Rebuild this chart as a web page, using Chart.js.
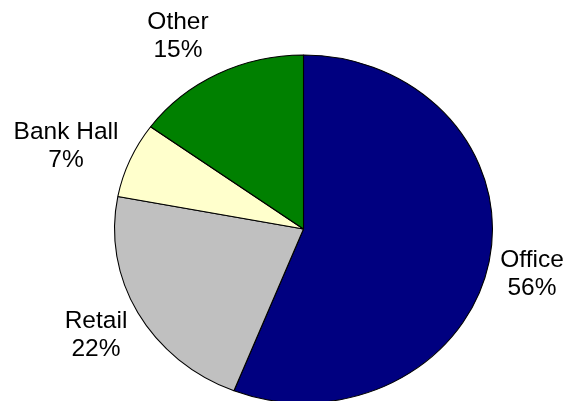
<!DOCTYPE html>
<html>
<head>
<meta charset="utf-8">
<title>Space Use by Type</title>
<script src="https://cdn.jsdelivr.net/npm/chart.js@4.4.1/dist/chart.umd.min.js"></script>
<style>
  html, body { margin: 0; padding: 0; background: #ffffff; }
  #wrap { position: relative; width: 572px; height: 401px; }
</style>
</head>
<body>
<div id="wrap"><canvas id="chart" width="572" height="401"></canvas></div>
<script>
// Space use shares, in percent, clockwise from 12 o'clock
const categories = ['Office', 'Retail', 'Bank Hall', 'Other'];
const shares = [56, 22, 7, 15];
const sliceColors = ['#000080', '#C0C0C0', '#FFFFCC', '#008000'];

// Label block centres (x, first baseline) placed around the pie
const labelAnchors = [
  [532, 267],
  [96, 328],
  [66, 139],
  [178, 29]
];

const PIE_RADIUS = 174;        // vertical radius
const PIE_STRETCH = 189 / 174; // horizontal stretch, pie is drawn slightly wide
const LABEL_FONT = '24.5px "Liberation Sans", Arial, sans-serif';
const LINE_GAP = 28;

// Stretch the pie horizontally about its own centre
const ellipsePlugin = {
  id: 'ellipsePie',
  beforeDatasetsDraw(chart) {
    const arc = chart.getDatasetMeta(0).data[0];
    const ctx = chart.ctx;
    ctx.save();
    ctx.translate(arc.x, arc.y);
    ctx.scale(PIE_STRETCH, 1);
    ctx.translate(-arc.x, -arc.y);
  },
  afterDatasetsDraw(chart) {
    chart.ctx.restore();
  }
};

// Two-line "name / percent" labels outside the pie
const sliceLabelPlugin = {
  id: 'sliceLabels',
  afterDraw(chart) {
    const ctx = chart.ctx;
    ctx.save();
    ctx.font = LABEL_FONT;
    ctx.fillStyle = '#000000';
    ctx.textAlign = 'center';
    ctx.textBaseline = 'alphabetic';
    categories.forEach((name, i) => {
      const [x, y] = labelAnchors[i];
      ctx.fillText(name, x, y);
      ctx.fillText(shares[i] + '%', x, y + LINE_GAP);
    });
    ctx.restore();
  }
};

new Chart(document.getElementById('chart'), {
  type: 'pie',
  data: {
    labels: categories,
    datasets: [{
      data: shares,
      backgroundColor: sliceColors,
      borderColor: '#000000',
      borderWidth: 1,
      radius: PIE_RADIUS,
      clip: false
    }]
  },
  options: {
    responsive: false,
    devicePixelRatio: 1,
    animation: false,
    events: [],
    rotation: 0,
    layout: { padding: { left: 35, right: 0, top: 57, bottom: 0 } },
    plugins: {
      legend: { display: false },
      tooltip: { enabled: false },
      title: { display: false }
    }
  },
  plugins: [ellipsePlugin, sliceLabelPlugin]
});
</script>
</body>
</html>
